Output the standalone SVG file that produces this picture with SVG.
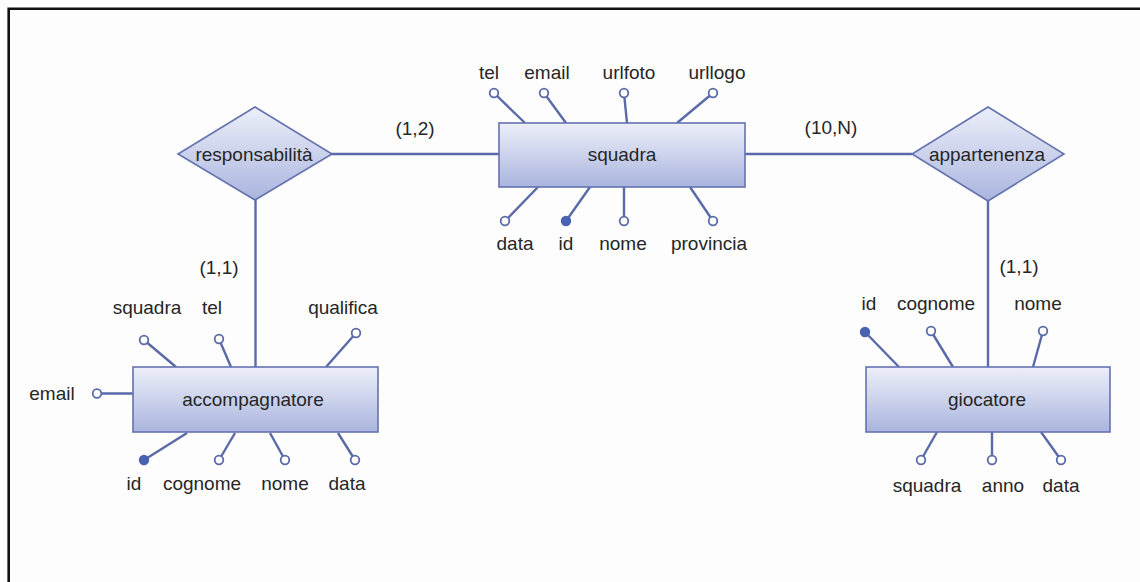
<svg xmlns="http://www.w3.org/2000/svg" width="1140" height="582" viewBox="0 0 1140 582">
<defs>
<linearGradient id="g" x1="0" y1="0" x2="0" y2="1">
<stop offset="0" stop-color="#eceff9"/>
<stop offset="1" stop-color="#aab5de"/>
</linearGradient>
<style>
.box{fill:url(#g);stroke:#6472b0;stroke-width:1.6}
.ln{stroke:#5a6aa8;stroke-width:2.4;fill:none}
.att{fill:#fff;stroke:#5a6aa8;stroke-width:1.8}
.key{fill:#4a62b2;stroke:#4a62b2;stroke-width:1.8}
text{font-family:"Liberation Sans",Arial,sans-serif;font-size:19px;fill:#262626;text-anchor:middle}
</style>
</defs>
<rect width="1140" height="582" fill="#fdfdfd"/>
<path d="M8.7,582 V8.7 H1140" fill="none" stroke="#111" stroke-width="2.6"/>

<g id="connectors">
<line class="ln" x1="330" y1="154" x2="499" y2="154"/>
<line class="ln" x1="745" y1="154" x2="912" y2="154"/>
<line class="ln" x1="255.5" y1="200" x2="255.5" y2="367"/>
<line class="ln" x1="988" y1="200" x2="988" y2="367"/>
<text x="415" y="135">(1,2)</text>
<text x="831" y="134">(10,N)</text>
<text x="219" y="274">(1,1)</text>
<text x="1019" y="273">(1,1)</text>
</g>

<g id="squadra">
<line class="ln" x1="494" y1="93" x2="525" y2="123"/>
<line class="ln" x1="544" y1="93" x2="566" y2="123"/>
<line class="ln" x1="624" y1="93" x2="627" y2="123"/>
<line class="ln" x1="713" y1="93" x2="677" y2="123"/>
<line class="ln" x1="505" y1="221" x2="538" y2="187"/>
<line class="ln" x1="566" y1="221" x2="590" y2="187"/>
<line class="ln" x1="624" y1="221" x2="624" y2="187"/>
<line class="ln" x1="713" y1="221" x2="690" y2="187"/>
<rect class="box" x="499" y="123" width="246" height="64"/>
<text x="622" y="161">squadra</text>
<circle class="att" cx="494" cy="93" r="4.3"/>
<circle class="att" cx="544" cy="93" r="4.3"/>
<circle class="att" cx="624" cy="93" r="4.3"/>
<circle class="att" cx="713" cy="93" r="4.3"/>
<circle class="att" cx="505" cy="221" r="4.3"/>
<circle class="key" cx="566" cy="221" r="4.3"/>
<circle class="att" cx="624" cy="221" r="4.3"/>
<circle class="att" cx="713" cy="221" r="4.3"/>
<text x="489" y="79">tel</text>
<text x="547" y="79">email</text>
<text x="629" y="79">urlfoto</text>
<text x="717" y="79">urllogo</text>
<text x="515" y="250">data</text>
<text x="566" y="250">id</text>
<text x="623" y="250">nome</text>
<text x="709" y="250">provincia</text>
</g>

<g id="responsabilita">
<polygon class="box" points="255,107 332,154 255,200 178,154"/>
<text x="254" y="161">responsabilità</text>
</g>

<g id="appartenenza">
<polygon class="box" points="988,107 1064,154 988,201 912,154"/>
<text x="987" y="161">appartenenza</text>
</g>

<g id="accompagnatore">
<line class="ln" x1="144" y1="340" x2="176" y2="367"/>
<line class="ln" x1="219" y1="339" x2="231" y2="367"/>
<line class="ln" x1="356" y1="333" x2="326" y2="367"/>
<line class="ln" x1="97" y1="393.5" x2="133" y2="393.5"/>
<line class="ln" x1="144" y1="460" x2="187" y2="433"/>
<line class="ln" x1="219" y1="460" x2="235" y2="433"/>
<line class="ln" x1="285" y1="460" x2="270" y2="433"/>
<line class="ln" x1="355" y1="460" x2="338" y2="433"/>
<rect class="box" x="133" y="367" width="245" height="65"/>
<text x="253" y="406">accompagnatore</text>
<circle class="att" cx="144" cy="340" r="4.3"/>
<circle class="att" cx="219" cy="339" r="4.3"/>
<circle class="att" cx="356" cy="333" r="4.3"/>
<circle class="att" cx="97" cy="393.5" r="4.3"/>
<circle class="key" cx="144" cy="460" r="4.3"/>
<circle class="att" cx="219" cy="460" r="4.3"/>
<circle class="att" cx="285" cy="460" r="4.3"/>
<circle class="att" cx="355" cy="460" r="4.3"/>
<text x="147" y="314">squadra</text>
<text x="212" y="314">tel</text>
<text x="343" y="314">qualifica</text>
<text x="52" y="400">email</text>
<text x="134" y="490">id</text>
<text x="202" y="490">cognome</text>
<text x="285" y="490">nome</text>
<text x="347" y="490">data</text>
</g>

<g id="giocatore">
<line class="ln" x1="865" y1="332" x2="899" y2="367"/>
<line class="ln" x1="931" y1="331" x2="953" y2="367"/>
<line class="ln" x1="1043" y1="331" x2="1033" y2="367"/>
<line class="ln" x1="921" y1="460" x2="937" y2="432"/>
<line class="ln" x1="992" y1="460" x2="992" y2="432"/>
<line class="ln" x1="1061" y1="460" x2="1041" y2="432"/>
<rect class="box" x="866" y="367" width="244" height="65"/>
<text x="987" y="406">giocatore</text>
<circle class="key" cx="865" cy="332" r="4.3"/>
<circle class="att" cx="931" cy="331" r="4.3"/>
<circle class="att" cx="1043" cy="331" r="4.3"/>
<circle class="att" cx="921" cy="460" r="4.3"/>
<circle class="att" cx="992" cy="460" r="4.3"/>
<circle class="att" cx="1061" cy="460" r="4.3"/>
<text x="869" y="310">id</text>
<text x="936" y="310">cognome</text>
<text x="1038" y="310">nome</text>
<text x="927" y="492">squadra</text>
<text x="1003" y="492">anno</text>
<text x="1061" y="492">data</text>
</g>
</svg>
